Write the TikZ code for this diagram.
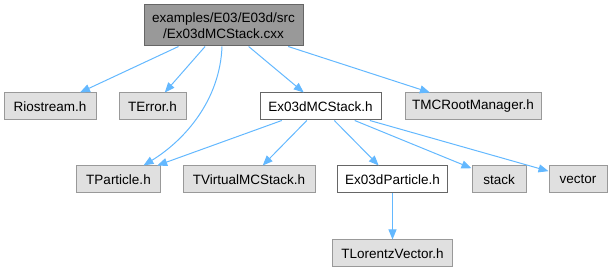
\documentclass[tikz,border=0pt]{standalone}
\usepackage{fontspec}
\setmainfont{Liberation Sans}
\usetikzlibrary{arrows.meta}
\definecolor{edgeblue}{HTML}{63B8FF}
\definecolor{grayfill}{HTML}{E0E0E0}
\definecolor{grayline}{HTML}{999999}
\definecolor{darkline}{HTML}{666666}
\begin{document}
\begin{tikzpicture}[x=1pt,y=-1pt,
  box/.style={draw=grayline,fill=grayfill,line width=1pt,inner sep=0pt,minimum height=27pt,
    font=\fontsize{13.5}{16}\selectfont,text=black},
  whitebox/.style={box,draw=darkline,fill=white},
  rootbox/.style={box,draw=darkline,fill=grayline,minimum height=41pt,align=center},
  edge/.style={draw=edgeblue,line width=1pt,-{Triangle[length=10pt,width=8pt]}}]
\useasboundingbox (0,0) rectangle (613,272);
\node[rootbox,minimum width=159pt] (root) at (223.5,25.5) {examples/E03/E03d/src\\/Ex03dMCStack.cxx};
\node[box,minimum width=92pt] (rio) at (50,106.5) {Riostream.h};
\node[box,minimum width=67pt] (terr) at (152.5,106.5) {TError.h};
\node[whitebox,minimum width=121pt] (mcs) at (320.5,106.5) {Ex03dMCStack.h};
\node[box,minimum width=136pt] (tmc) at (473,106.5) {TMCRootManager.h};
\node[box,minimum width=84pt] (tpart) at (118.5,179.5) {TParticle.h};
\node[box,minimum width=132pt] (tvirt) at (249,179.5) {TVirtualMCStack.h};
\node[whitebox,minimum width=110pt] (epart) at (392.5,179.5) {Ex03dParticle.h};
\node[box,minimum width=54pt] (stack) at (499,179.5) {stack};
\node[box,minimum width=58pt] (vec) at (578,179.5) {vector};
\node[box,minimum width=120pt] (tlv) at (392.5,253.5) {TLorentzVector.h};
\draw[edge] (root) -- (rio);
\draw[edge] (root) -- (terr);
\draw[edge] ([xshift=-1.5pt]root.south) .. controls (220,100) and (185,140) .. ([xshift=25pt]tpart.north);
\draw[edge] (root) -- (mcs);
\draw[edge] (root) -- (tmc);
\draw[edge] (mcs) -- (tpart);
\draw[edge] (mcs) -- (tvirt);
\draw[edge] (mcs) -- (epart);
\draw[edge] (mcs) -- (stack);
\draw[edge] (mcs) -- (vec);
\draw[edge] (epart) -- (tlv);
\end{tikzpicture}
\end{document}
